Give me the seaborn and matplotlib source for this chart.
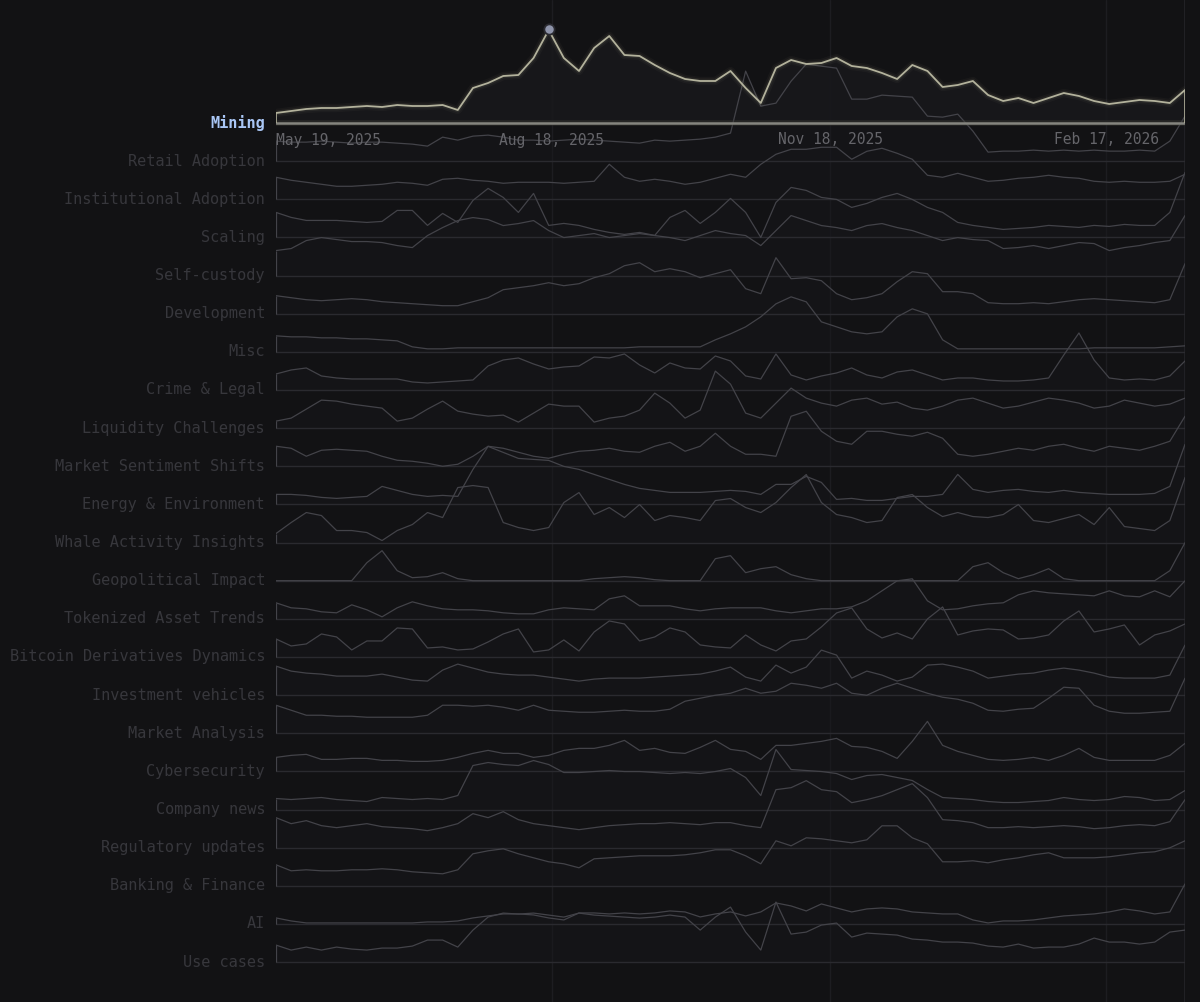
import numpy as np
import pandas as pd
import matplotlib
matplotlib.use("Agg")
import matplotlib.pyplot as plt
import matplotlib.transforms as mtransforms
import seaborn as sns

sns.set_theme(style="dark")
plt.rcParams["font.family"] = ["DejaVu Sans Mono", "DejaVu Sans"]

# ---------------- data ----------------
dates = pd.date_range("2025-05-19", periods=61, freq="5D")

topics = ["Mining", "Retail Adoption", "Institutional Adoption", "Scaling", "Self-custody",
          "Development", "Misc", "Crime & Legal", "Liquidity Challenges",
          "Market Sentiment Shifts", "Energy & Environment", "Whale Activity Insights",
          "Geopolitical Impact", "Tokenized Asset Trends", "Bitcoin Derivatives Dynamics",
          "Investment vehicles", "Market Analysis", "Cybersecurity", "Company news",
          "Regulatory updates", "Banking & Finance", "AI", "Use cases"]

mining = [10,12,14,15,15,16,17,16,18,17, 17,18,13,35,40,47,48,65,93,65,
          52,75,87,68,67,58,50,44,42,42, 52,35,20,55,63,59,60,65,57,55,
          50,44,58,52,36,38,42,28,22,25, 20,25,30,27,22,19,21,23,22,20, 33]
retail_adoption = [20,19,19,20,19,18,19,19,18,17, 15,24,21,25,26,24,21,21,20,21,
                   22,21,20,19,18,21,20,21,22,24, 28,90,55,58,80,97,95,93,62,62,
                   66,65,64,45,44,47,30,9,10,10, 11,10,11,10,11,10,10,11,10,20, 45]
institutional_adoption = [22,19,17,15,13,13,14,15,17,16, 14,20,21,19,18,16,17,17,17,16,
                          17,18,35,22,18,20,18,15,17,21, 25,22,35,45,50,50,52,52,40,48,
                          51,46,40,24,22,26,22,18,19,21, 22,24,22,21,18,17,18,17,17,18, 25]
scaling = [25,20,17,17,17,16,15,16,27,27, 12,24,15,37,49,40,25,44,12,14,
           12,8,5,3,5,2,20,27,14,25, 39,25,0,35,50,47,40,38,30,34,
           40,44,38,30,25,15,12,10,8,9, 10,12,11,10,12,11,13,12,12,25, 65]
self_custody = [25,27,35,38,36,34,34,33,30,28, 40,48,55,58,56,50,52,55,45,38,
                40,42,38,40,42,40,38,35,40,45, 42,40,30,45,60,55,50,48,45,50,
                52,48,45,40,35,38,36,35,27,28, 30,27,30,33,32,25,28,30,33,35, 60]
development = [18,16,14,13,14,15,14,12,11,10, 9,8,8,12,16,24,26,28,31,28,
               30,36,40,48,51,42,45,42,36,40, 44,25,20,56,35,36,33,20,14,16,
               20,32,42,40,22,22,20,11,10,10, 11,10,12,14,15,14,13,12,11,14, 50]
misc = [16,15,15,14,14,13,13,12,11,5, 3,3,4,4,4,4,4,4,4,4,
        4,4,4,4,5,5,5,5,5,12, 18,25,35,48,55,50,30,25,20,18,
        20,35,43,38,12,3,3,3,3,3, 3,3,3,3,4,4,4,4,4,5, 6]
crime_legal = [16,20,22,14,12,11,11,11,11,8, 7,8,9,10,24,30,32,26,21,23,
               24,33,32,36,25,17,27,22,21,34, 29,14,11,36,15,10,14,17,22,15,
               12,18,20,15,10,12,12,10,9,9, 10,12,35,57,30,12,10,11,10,14, 29]
liquidity = [7,10,19,28,27,24,22,20,7,10, 19,27,17,14,12,13,6,15,24,22,
             22,6,10,12,18,35,25,10,18,57, 44,15,10,25,40,30,25,22,28,30,
             24,26,20,18,22,28,30,25,20,22, 26,30,28,25,20,22,28,25,22,24, 30]
sentiment = [20,18,10,16,17,16,15,10,6,5, 3,0,2,10,20,18,14,10,8,12,
             15,16,18,15,14,20,24,15,20,33, 20,12,12,10,50,55,35,25,22,35,
             35,32,30,34,28,12,10,12,15,18, 16,20,22,18,15,20,18,16,20,25, 50]
energy = [10,10,9,7,6,7,8,18,14,10, 8,9,8,35,58,52,46,45,44,38,
          35,30,25,20,16,14,12,12,12,13, 14,13,10,20,20,28,22,5,6,4,
          4,6,8,8,10,30,15,12,14,15, 13,12,14,12,11,10,10,10,11,18, 60]
whale = [9,20,30,27,12,12,10,2,12,18, 30,25,55,57,55,20,15,12,15,40,
         50,28,35,25,38,22,27,25,22,42, 44,35,30,40,55,68,40,28,25,20,
         22,45,48,35,26,30,26,25,28,38, 22,20,24,28,18,35,16,14,12,22, 65]
geopolitical = [0,0,0,0,0,0,18,30,10,3, 4,8,2,0,0,0,0,0,0,0,
                0,2,3,4,3,1,0,0,0,22, 25,8,12,14,6,2,0,0,0,0,
                0,0,0,0,0,0,14,18,8,2, 6,12,2,0,0,0,0,0,0,10, 38]
tokenized = [16,11,10,7,6,14,9,2,11,17, 13,10,9,9,8,6,5,5,9,11,
             10,9,20,23,13,13,13,10,8,10, 11,11,11,8,6,8,10,10,12,18,
             28,38,40,18,9,10,13,15,16,24, 28,26,25,24,23,28,23,22,28,22, 38]
derivatives = [18,11,13,23,20,7,16,16,29,28, 9,10,7,8,15,23,28,5,7,17,
               6,25,36,33,16,20,29,25,12,10, 9,22,12,6,16,18,30,44,49,28,
               19,24,18,38,50,22,26,28,27,18, 19,22,36,46,25,28,32,12,22,26, 33]
investment = [29,24,22,21,19,19,19,21,18,15, 14,25,31,27,23,21,20,20,18,16,
              14,16,17,17,17,18,19,20,21,24, 28,18,14,30,22,28,45,40,17,24,
              20,14,18,30,31,28,24,17,19,21, 22,25,27,25,22,18,17,17,17,20, 50]
market_analysis = [28,23,18,18,17,17,16,16,16,16, 18,28,28,27,28,26,23,28,23,22,
                   21,21,22,23,22,22,24,32,35,38, 40,45,40,42,50,48,45,50,40,38,
                   45,50,45,40,36,34,30,23,22,24, 25,35,46,45,28,22,20,20,21,22, 55]
cybersecurity = [14,16,17,12,12,13,13,11,11,10, 10,11,14,18,21,18,18,14,16,21,
                 23,23,26,31,21,23,19,18,24,31, 22,20,12,26,26,28,30,33,25,24,
                 20,13,30,50,26,20,16,12,11,12, 14,11,16,23,14,11,11,11,11,16, 28]
company_news = [11,10,11,12,10,9,8,12,11,10, 11,10,14,44,47,45,44,49,45,37,
                37,38,39,38,38,37,36,37,36,38, 41,32,14,60,40,39,38,36,30,34,
                35,32,29,20,12,11,10,8,7,7, 8,9,12,10,9,10,13,12,9,10, 19]
regulatory = [30,24,27,22,20,22,24,21,20,19, 17,20,24,34,30,36,28,24,22,20,
              18,20,22,23,24,24,25,24,23,25, 25,22,20,58,60,67,58,56,45,48,
              52,58,64,50,28,27,25,20,20,21, 20,21,22,21,19,20,22,23,22,26, 48]
banking = [21,15,16,15,15,16,16,17,16,14, 13,12,16,32,35,37,32,28,24,22,
           18,27,28,29,30,30,30,31,33,36, 36,30,22,45,40,48,47,45,43,46,
           60,60,48,42,24,24,25,23,26,28, 31,33,28,28,28,29,31,33,34,38, 45]
ai = [6,3,1,1,1,1,1,1,1,1, 2,2,3,6,8,10,10,9,6,4,
      11,11,10,11,10,11,13,12,7,10, 12,8,12,21,18,13,20,16,12,15,
      16,15,12,11,10,10,4,1,3,3, 4,6,8,9,10,12,15,13,10,12, 40]
use_cases = [17,12,15,12,15,13,12,14,14,16, 22,22,15,32,45,49,48,49,47,45,
             49,47,46,45,44,45,47,45,32,45, 55,30,12,60,28,30,37,39,25,29,
             28,27,23,22,20,20,19,16,15,18, 14,15,15,18,24,20,20,18,20,30, 32]

series = [mining, retail_adoption, institutional_adoption, scaling, self_custody,
          development, misc, crime_legal, liquidity, sentiment, energy, whale,
          geopolitical, tokenized, derivatives, investment, market_analysis,
          cybersecurity, company_news, regulatory, banking, ai, use_cases]

tick_dates = pd.to_datetime(["2025-05-19", "2025-08-18", "2025-11-18", "2026-02-17"])
tick_labels = ["May 19, 2025", "Aug 18, 2025", "Nov 18, 2025", "Feb 17, 2026"]

# ---------------- style ----------------
BG = "#121214"
LINE = "#434349"
BASE = "#2a2a2f"
LABEL = "#37373c"
ROW = 38.14

frames = []
for i, (name, vals) in enumerate(zip(topics, series)):
    frames.append(pd.DataFrame({"date": dates, "topic": name,
                                "value": vals, "offset": -i * ROW}))
df = pd.concat(frames, ignore_index=True)
df["y"] = df["value"] + df["offset"]

fig = plt.figure(figsize=(12, 10.02), dpi=100, facecolor=BG)
ax = fig.add_axes([276 / 1200, 0, 909 / 1200, 1])
ax.set_facecolor(BG)
ax.set_xlim(dates[0], dates[-1])
ax.set_ylim(-879, 123)
ax.set_axis_off()

lab_tr = mtransforms.blended_transform_factory(ax.transAxes, ax.transData)

# vertical guides
for d in tick_dates[1:]:
    ax.axvline(d, color="#1d1d21", lw=1.0, zorder=0)
ax.axvline(dates[-1], color="#212125", lw=1.5, zorder=0)

# other rows
others = df[df["topic"] != "Mining"]
for i in range(1, len(topics)):
    sub = df[df["topic"] == topics[i]]
    base = -i * ROW
    ax.fill_between(sub["date"], base, sub["y"], color="#17171b", alpha=0.45, lw=0, zorder=1)
    ax.axhline(base, color=BASE, lw=1.0, zorder=2)
    ax.vlines([dates[0], dates[-1]], base, [sub["y"].iloc[0], sub["y"].iloc[-1]],
              color=LINE, lw=0.9, zorder=3)
    ax.text(-11 / 909, base, topics[i], transform=lab_tr, ha="right", va="center",
            fontsize=11, color=LABEL, clip_on=False)

sns.lineplot(data=others, x="date", y="y", units="topic", estimator=None,
             color=LINE, lw=0.9, legend=False, ax=ax, zorder=3)

# highlighted Mining row
mine = df[df["topic"] == "Mining"]
ax.fill_between(mine["date"], 0, mine["y"], color="#19191c", alpha=0.85, lw=0, zorder=0.5)
for lw, a in [(6, 0.035), (3.5, 0.07)]:
    sns.lineplot(data=mine, x="date", y="y", color="#d9d6b0", lw=lw, alpha=a,
                 legend=False, ax=ax, zorder=5)
sns.lineplot(data=mine, x="date", y="y", color="#b3b29c", lw=1.3, legend=False, ax=ax, zorder=6)
ax.axhline(0, color="#3a3a34", lw=4, alpha=0.45, zorder=5)
ax.axhline(0, color="#85857f", lw=1.8, zorder=6)
ax.vlines([dates[0], dates[-1]], 0, [mine["y"].iloc[0], mine["y"].iloc[-1]],
          color="#b3b29c", lw=1.2, zorder=6)
imax = int(np.argmax(mining))
ax.scatter([dates[imax]], [mining[imax] + 1.5], s=55, color="#8e94aa",
           edgecolor="#2a2a30", lw=1.3, zorder=8)
ax.text(-11 / 909, 0, "Mining", transform=lab_tr, ha="right", va="center",
        fontsize=11, color="#a9c6f5", fontweight="bold", clip_on=False)

# date labels under the highlighted row
for j, (d, lab) in enumerate(zip(tick_dates, tick_labels)):
    ax.text(d, -17, lab, ha="left" if j == 0 else "center", va="center",
            fontsize=10.5, color="#65656a", zorder=7, clip_on=False)

ax.set_xlabel("")
ax.set_ylabel("")
fig.savefig("out.png", dpi=100, facecolor=BG)
